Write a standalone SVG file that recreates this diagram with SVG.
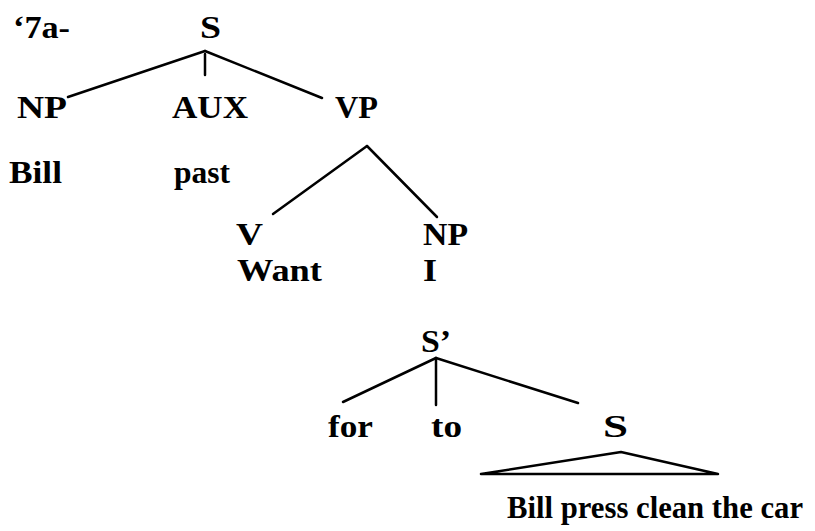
<svg xmlns="http://www.w3.org/2000/svg" width="815" height="531" viewBox="0 0 815 531">
  <style>
    text { font-family: "Liberation Serif", "Times New Roman", serif; font-weight: bold; font-size: 32px; fill: #000; }
    .edge { stroke: #000; stroke-width: 2.5; fill: none; stroke-linecap: round; stroke-linejoin: round; }
  </style>
  <rect width="815" height="531" fill="#fff"/>

  <!-- example number -->
  <text id="label-7a" x="13" y="38" textLength="57" lengthAdjust="spacingAndGlyphs">‘7a-</text>

  <!-- tree branches -->
  <g id="connectors">
    <path class="edge" d="M205,51 L68,97"/>
    <path class="edge" d="M205,54 L205,75"/>
    <path class="edge" d="M205,51 L322,98"/>
    <path class="edge" d="M367,146 L273,214"/>
    <path class="edge" d="M367,146 L437,217"/>
    <path class="edge" d="M436,358 L343,402"/>
    <path class="edge" d="M436,358 L436,405"/>
    <path class="edge" d="M436,358 L578,403"/>
    <path class="edge" d="M621,452 L481,474 L718,474 Z"/>
  </g>

  <!-- nodes -->
  <g id="node-S"><text x="200" y="38" textLength="21" lengthAdjust="spacingAndGlyphs">S</text></g>
  <g id="node-NP1"><text x="17" y="118" textLength="50" lengthAdjust="spacingAndGlyphs">NP</text></g>
  <g id="node-AUX"><text x="172" y="118" textLength="76" lengthAdjust="spacingAndGlyphs">AUX</text></g>
  <g id="node-VP"><text x="335" y="118" textLength="43" lengthAdjust="spacingAndGlyphs">VP</text></g>
  <g id="leaf-Bill"><text x="9" y="183" textLength="53" lengthAdjust="spacingAndGlyphs">Bill</text></g>
  <g id="leaf-past"><text x="174" y="183" textLength="56" lengthAdjust="spacingAndGlyphs">past</text></g>
  <g id="node-V"><text x="236" y="245" textLength="27" lengthAdjust="spacingAndGlyphs">V</text></g>
  <g id="node-NP2"><text x="423" y="245" textLength="45" lengthAdjust="spacingAndGlyphs">NP</text></g>
  <g id="leaf-Want"><text x="237" y="281" textLength="85" lengthAdjust="spacingAndGlyphs">Want</text></g>
  <g id="leaf-I"><text x="423" y="281" textLength="14" lengthAdjust="spacingAndGlyphs">I</text></g>
  <g id="node-Sbar"><text x="421" y="352" textLength="30" lengthAdjust="spacingAndGlyphs">S’</text></g>
  <g id="leaf-for"><text x="328" y="437" textLength="45" lengthAdjust="spacingAndGlyphs">for</text></g>
  <g id="leaf-to"><text x="431" y="437" textLength="31" lengthAdjust="spacingAndGlyphs">to</text></g>
  <g id="node-S2"><text x="603" y="437" textLength="25" lengthAdjust="spacingAndGlyphs">S</text></g>
  <g id="leaf-clause"><text x="507" y="518" textLength="296" lengthAdjust="spacingAndGlyphs">Bill press clean the car</text></g>
</svg>
